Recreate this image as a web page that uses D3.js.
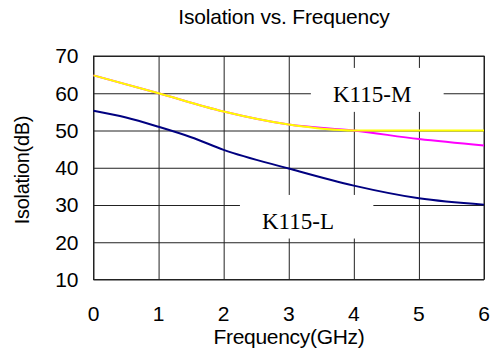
<!DOCTYPE html>
<html>
<head>
<meta charset="utf-8">
<script src="https://cdn.jsdelivr.net/npm/d3@7"></script>
<style>
  body { margin: 0; background: #fff; }
  svg { display: block; }
</style>
</head>
<body>
<div class="chart"></div>
<script>
const freq = [0, 0.5, 1, 1.5, 2, 3, 4, 5, 6];
const k115L = [55.3, 53.5, 51.0, 48.2, 44.8, 39.8, 35.2, 31.8, 30.1];
const freqM = [0, 1, 2, 3, 4, 5, 6];
const k115Mmag = [64.8, 60.0, 55.1, 51.6, 50.0, 47.7, 46.0];
const k115Myel = [64.8, 60.0, 55.1, 51.6, 50.0, 50.0, 50.0];
const xTicks = [0, 1, 2, 3, 4, 5, 6];
const yTicks = [10, 20, 30, 40, 50, 60, 70];

const W = 493, H = 356;
const margin = {top: 56, right: 9, bottom: 76.5, left: 93.5};
const width = W - margin.left - margin.right;
const height = H - margin.top - margin.bottom;

const svg = d3.select('.chart')
  .append('svg')
  .attr('width', W)
  .attr('height', H);

const g = svg.append('g')
  .attr('transform', 'translate(' + margin.left + ',' + margin.top + ')');

const x = d3.scaleLinear().domain([0, 6]).range([0, width]);
const y = d3.scaleLinear().domain([10, 70]).range([height, 0]);

// grid
g.append('g')
  .call(d3.axisLeft(y).tickValues(yTicks).tickSize(-width).tickFormat(''))
  .call(s => s.select('.domain').remove())
  .selectAll('line').attr('stroke', '#222').attr('stroke-width', 1);

g.append('g')
  .attr('transform', `translate(0,${height})`)
  .call(d3.axisBottom(x).tickValues(xTicks).tickSize(-height).tickFormat(''))
  .call(s => s.select('.domain').remove())
  .selectAll('line').attr('stroke', '#222').attr('stroke-width', 1);

g.append('rect')
  .attr('width', width).attr('height', height)
  .attr('fill', 'none').attr('stroke', '#222');

// tick labels
g.selectAll('.ylab')
  .data(yTicks)
  .enter().append('text')
  .attr('x', -15)
  .attr('y', d => y(d))
  .attr('dy', '0.35em')
  .attr('text-anchor', 'end')
  .style('font', '21px "Liberation Sans", Arial, sans-serif')
  .text(d => d);

g.selectAll('.xlab')
  .data(xTicks)
  .enter().append('text')
  .attr('x', d => x(d))
  .attr('y', height + 41)
  .attr('text-anchor', 'middle')
  .style('font', '21px "Liberation Sans", Arial, sans-serif')
  .text(d => d);

// label boxes
const labels = [
  {text: 'K115-M', x0: 3.34, x1: 5.38, y0: 66.8, y1: 55.0, tx: 333, ty: 101.5},
  {text: 'K115-L', x0: 2.25, x1: 4.3, y0: 32.7, y1: 21.0, tx: 262, ty: 229}
];
labels.forEach(l => {
  g.append('rect')
    .attr('x', x(l.x0)).attr('y', y(l.y0))
    .attr('width', x(l.x1) - x(l.x0)).attr('height', y(l.y1) - y(l.y0))
    .attr('fill', '#fff');
});

// lines
const line = (xs) => d3.line()
  .x((d, i) => x(xs[i]))
  .y(d => y(d))
  .curve(d3.curveMonotoneX);

g.append('path').datum(k115L)
  .attr('d', line(freq))
  .attr('fill', 'none').attr('stroke', '#000080').attr('stroke-width', 2);

g.append('path').datum(k115Mmag)
  .attr('d', line(freqM))
  .attr('fill', 'none').attr('stroke', '#ff00ff').attr('stroke-width', 2);

g.append('path').datum(k115Myel)
  .attr('d', line(freqM))
  .attr('fill', 'none').attr('stroke', '#ffff00').attr('stroke-width', 2);

labels.forEach(l => {
  svg.append('text')
    .attr('x', l.tx).attr('y', l.ty)
    .style('font', '23px "Liberation Serif", "Times New Roman", serif')
    .text(l.text);
});

// titles
svg.append('text')
  .attr('x', 284).attr('y', 24)
  .attr('text-anchor', 'middle')
  .style('font', '21px "Liberation Sans", Arial, sans-serif')
  .style('letter-spacing', '-0.2px')
  .text('Isolation vs. Frequency');

svg.append('text')
  .attr('x', 289).attr('y', 344)
  .attr('text-anchor', 'middle')
  .style('font', '21px "Liberation Sans", Arial, sans-serif')
  .style('letter-spacing', '-0.3px')
  .text('Frequency(GHz)');

svg.append('text')
  .attr('transform', 'translate(29,170) rotate(-90)')
  .attr('text-anchor', 'middle')
  .style('font', '20px "Liberation Sans", Arial, sans-serif')
  .style('letter-spacing', '-0.3px')
  .text('Isolation(dB)');
</script>
</body>
</html>
